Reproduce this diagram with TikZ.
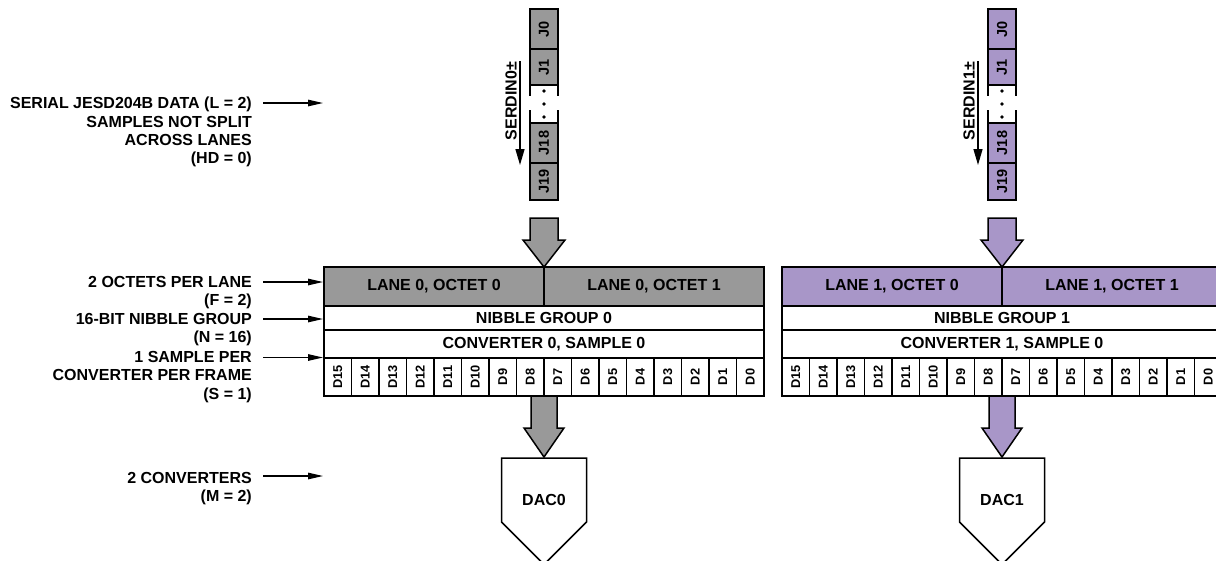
\documentclass[tikz,border=0pt]{standalone}
\usepackage{fontspec}
\setmainfont{Liberation Sans}
\usetikzlibrary{arrows.meta,calc}
\definecolor{gfill}{RGB}{153,153,153}
\definecolor{pfill}{RGB}{168,150,200}
\newcommand\blkarrow[6]{% x, half shaft, half head, ytop, ybase, ytip
  (#1-#2,#4) -- (#1+#2,#4) -- (#1+#2,#5) -- (#1+#3,#5) -- (#1,#6) -- (#1-#3,#5) -- (#1-#2,#5) -- cycle}
\begin{document}
\begin{tikzpicture}[x=1pt,y=-1pt,
  lw/.style={line width=1.5pt},
  cell/.style={draw,line width=1.5pt,inner sep=0pt,outer sep=0pt,
    font=\bfseries\fontsize{16}{18}\selectfont},
  bitcell/.style={draw,line width=1.5pt,inner sep=0pt,outer sep=0pt,rotate=90,
    minimum width=38pt,minimum height=27.5pt,fill=white,
    font=\bfseries\fontsize{12.8}{14}\selectfont},
  jcell/.style={draw,line width=1.5pt,inner sep=0pt,outer sep=0pt,rotate=90,
    minimum height=28pt,font=\bfseries\fontsize{14.5}{16}\selectfont},
  lab/.style={anchor=north east,align=right,inner sep=0pt,
    font=\bfseries\fontsize{16}{18.4}\selectfont},
  lblarrow/.style={line width=1.2pt,-{Triangle[length=15pt,width=6.5pt]}},
  serarrow/.style={line width=1.4pt,-{Triangle[length=16pt,width=9pt]}},
  bigarrow/.style={line width=1.5pt,line join=miter},
]
\useasboundingbox (0,0) rectangle (1216,560);
\clip (0,0) rectangle (1216,560);

% left labels
\node[lab] (l1) at (252,97) {SERIAL JESD204B DATA (L = 2)\\SAMPLES NOT SPLIT\\ACROSS LANES\\(HD = 0)};
\node[lab] (l2) at (252,276) {2 OCTETS PER LANE\\(F = 2)};
\node[lab] (l3) at (252,313) {16-BIT NIBBLE GROUP\\(N = 16)};
\node[lab] (l4) at (252,351) {1 SAMPLE PER\\CONVERTER PER FRAME\\(S = 1)};
\node[lab] (l5) at (252,472) {2 CONVERTERS\\(M = 2)};
\coordinate (a1s) at (263,103); \coordinate (a1e) at (323,103);
\coordinate (a2s) at (263,282); \coordinate (a2e) at (323,282);
\coordinate (a3s) at (263,319); \coordinate (a3e) at (323,319);
\coordinate (a4s) at (263,357.5); \coordinate (a4e) at (323,357.5);
\coordinate (a5s) at (263,476); \coordinate (a5e) at (323,476);
\foreach \k in {1,...,5} { \draw[lblarrow] (a\k s) -- (a\k e); }

\foreach \L/\cx/\col in {0/544/gfill,1/1002/pfill} {
  % serial lane
  \node[jcell,fill=\col,minimum width=40pt] (j\L-0) at (\cx,29) {J0};
  \node[jcell,fill=\col,minimum width=36pt] (j\L-1) at (\cx,67) {J1};
  \node[jcell,fill=\col,minimum width=40pt] (j\L-18) at (\cx,143) {J18};
  \node[jcell,fill=\col,minimum width=37pt] (j\L-19) at (\cx,181.5) {J19};
  \draw[lw] (\cx-14,85) -- (\cx-14,96) (\cx-14,110) -- (\cx-14,123)
            (\cx+14,85) -- (\cx+14,96) (\cx+14,110) -- (\cx+14,123);
  \fill (\cx,91) circle (1.9pt) (\cx,104) circle (1.9pt) (\cx,117) circle (1.9pt);
  \node[rotate=90,inner sep=0pt,font=\bfseries\fontsize{16}{18}\selectfont] (ser\L) at (\cx-33,101) {SERDIN\L±};
  \coordinate (s\L a) at (\cx-24,61); \coordinate (s\L b) at (\cx-24,165);
  \draw[serarrow] (s\L a) -- (s\L b);
  % arrow into frame
  \draw[bigarrow,fill=\col] \blkarrow{\cx}{14}{21}{218}{240}{267};
  % frame
  \node[cell,fill=\col,minimum width=220pt,minimum height=39pt] (oct\L-0) at (\cx-110,286.5) {LANE \L, OCTET 0};
  \node[cell,fill=\col,minimum width=220pt,minimum height=39pt] (oct\L-1) at (\cx+110,286.5) {LANE \L, OCTET 1};
  \node[cell,fill=white,minimum width=440pt,minimum height=24pt] (nib\L) at (\cx,318) {NIBBLE GROUP \L};
  \node[cell,fill=white,minimum width=440pt,minimum height=28pt] (conv\L) at (\cx,344) {CONVERTER \L, SAMPLE 0};
  \foreach \i in {0,...,15} {
    \pgfmathtruncatemacro\b{15-\i}
    \node[bitcell] (b\L-\b) at ({\cx-220+27.5*(\i+0.5)},377) {D\b};
  }
  % arrow to DAC
  \draw[bigarrow,fill=\col] \blkarrow{\cx}{13}{20}{396}{428}{457};
  \draw[lw,line join=miter,fill=white] (\cx-42.5,458) -- (\cx+42.5,458) -- (\cx+42.5,522) -- (\cx,564.5) -- (\cx-42.5,522) -- cycle;
  \node[inner sep=0pt,font=\bfseries\fontsize{16}{18}\selectfont] (dac\L) at (\cx,500) {DAC\L};
}
\end{tikzpicture}
\end{document}
